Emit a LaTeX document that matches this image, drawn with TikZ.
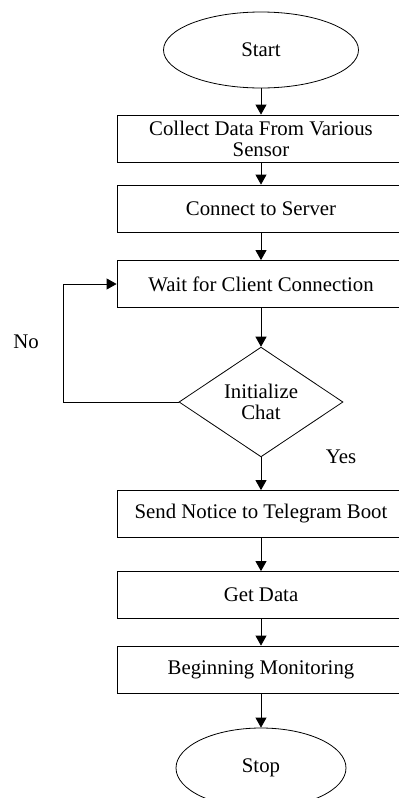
\documentclass[tikz,border=0pt]{standalone}
\usepackage{fontspec}
\setmainfont{Liberation Serif}
\usetikzlibrary{shapes.geometric,arrows.meta}
\begin{document}
\begin{tikzpicture}[x=0.5pt,y=-0.5pt,font=\fontsize{10.4}{10.6}\selectfont,
  stepbox/.style={draw,minimum width=144pt,minimum height=23.5pt,align=center,inner sep=1pt},
  termbox/.style={draw,ellipse,inner sep=0pt},
  choicebox/.style={draw,diamond,minimum width=82pt,minimum height=54pt,inner sep=0pt,align=center},
  flow/.style={-{Triangle[length=5pt,width=5.5pt]}}]
  \useasboundingbox (0,0) rectangle (398,798);
  \node[termbox,minimum width=97.5pt,minimum height=38pt] (start) at (261,50) {Start};
  \node[stepbox] (collect) at (261,138.5) {Collect Data From Various\\Sensor};
  \node[stepbox] (server) at (261,208.5) {Connect to Server};
  \node[stepbox] (wait) at (261,284) {Wait for Client Connection};
  \node[choicebox] (chat) at (261,402) {Initialize\\Chat};
  \node[stepbox] (notice) at (261,514) {Send Notice to Telegram Boot};
  \node[stepbox] (getdata) at (261,595) {Get Data};
  \node[stepbox] (monitor) at (261,669.5) {Beginning Monitoring};
  \node[termbox,minimum width=85pt,minimum height=40pt] (stop) at (261,768) {Stop};
  \coordinate (loop) at (63,402);

  \draw[flow] (start) -- (collect);
  \draw[flow] (collect) -- (server);
  \draw[flow] (server) -- (wait);
  \draw[flow] (wait) -- (chat);
  \draw[flow] (chat) -- (notice);
  \draw[flow] (notice) -- (getdata);
  \draw[flow] (getdata) -- (monitor);
  \draw[flow] (monitor) -- (stop);
  \draw[flow] (chat.west) -- (loop) |- (wait.west);
  \node (no) at (26,342) {No};
  \node (yes) at (341,457) {Yes};
\end{tikzpicture}
\end{document}
